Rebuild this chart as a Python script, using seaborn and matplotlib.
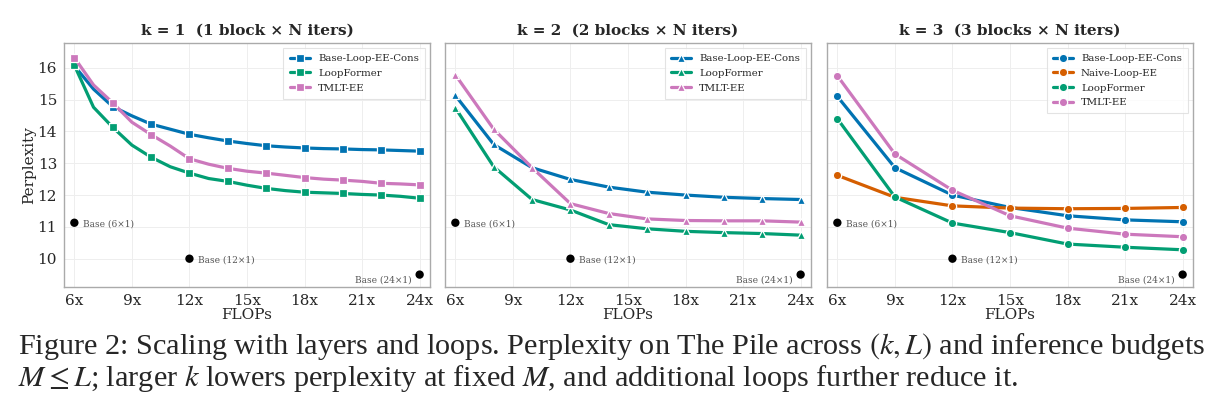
import numpy as np
import pandas as pd
import matplotlib
matplotlib.use("Agg")
import matplotlib.pyplot as plt
import seaborn as sns

sns.set_theme(style="whitegrid")
plt.rcParams['font.family'] = ['DejaVu Serif']
plt.rcParams['mathtext.fontset'] = 'stix'

pal = sns.color_palette("colorblind")
c_cons, c_naive, c_loop, c_tmlt = pal[0], pal[3], pal[2], pal[4]

# k = 1 : one point per flop step, markers every other step
x_k1 = list(range(6, 25))
cons_k1 = [16.06, 15.33, 14.78, 14.49, 14.23, 14.07, 13.91, 13.80, 13.70, 13.62,
           13.55, 13.51, 13.48, 13.46, 13.45, 13.43, 13.42, 13.40, 13.38]
loop_k1 = [16.08, 14.76, 14.13, 13.57, 13.19, 12.89, 12.69, 12.52, 12.43, 12.31,
           12.21, 12.14, 12.09, 12.07, 12.05, 12.02, 12.00, 11.96, 11.90]
tmlt_k1 = [16.32, 15.46, 14.90, 14.29, 13.90, 13.54, 13.14, 12.97, 12.84, 12.75,
           12.69, 12.62, 12.55, 12.50, 12.47, 12.43, 12.37, 12.35, 12.32]

# k = 2
x_k2 = [6, 8, 10, 12, 14, 16, 18, 20, 22, 24]
cons_k2 = [15.13, 13.59, 12.86, 12.49, 12.25, 12.09, 12.00, 11.93, 11.89, 11.86]
loop_k2 = [14.74, 12.89, 11.86, 11.53, 11.07, 10.94, 10.86, 10.82, 10.79, 10.74]
tmlt_k2 = [15.78, 14.07, 12.86, 11.73, 11.42, 11.25, 11.20, 11.19, 11.19, 11.15]

# k = 3
x_k3 = [6, 9, 12, 15, 18, 21, 24]
cons_k3 = [15.10, 12.86, 12.00, 11.61, 11.35, 11.22, 11.16]
naive_k3 = [12.62, 11.93, 11.66, 11.59, 11.57, 11.58, 11.61]
loop_k3 = [14.40, 11.94, 11.12, 10.82, 10.46, 10.36, 10.28]
tmlt_k3 = [15.75, 13.29, 12.15, 11.35, 10.96, 10.77, 10.69]

# dense baselines
base_x = [6, 12, 24]
base_y = [11.13, 10.0, 9.5]
base_labels = ["Base (6×1)", "Base (12×1)", "Base (24×1)"]

xticks = [6, 9, 12, 15, 18, 21, 24]
xticklabels = ["6x", "9x", "12x", "15x", "18x", "21x", "24x"]

panels = [
    ("k = 1  (1 block × N iters)", x_k1, 's', 2, 6.0,
     [("Base-Loop-EE-Cons", cons_k1, c_cons), ("LoopFormer", loop_k1, c_loop),
      ("TMLT-EE", tmlt_k1, c_tmlt)]),
    ("k = 2  (2 blocks × N iters)", x_k2, '^', 1, 6.0,
     [("Base-Loop-EE-Cons", cons_k2, c_cons), ("LoopFormer", loop_k2, c_loop),
      ("TMLT-EE", tmlt_k2, c_tmlt)]),
    ("k = 3  (3 blocks × N iters)", x_k3, 'o', 1, 6.0,
     [("Base-Loop-EE-Cons", cons_k3, c_cons), ("Naive-Loop-EE", naive_k3, c_naive),
      ("LoopFormer", loop_k3, c_loop), ("TMLT-EE", tmlt_k3, c_tmlt)]),
]

fig = plt.figure(figsize=(12.19, 4.07), dpi=100)
W, H = 1219.0, 407.0
lefts = [64, 445, 827]
axes = []
for i, l in enumerate(lefts):
    ax = fig.add_axes([l / W, 1 - 287 / H, 366 / W, (287 - 43) / H],
                      sharey=axes[0] if axes else None)
    axes.append(ax)

for ax, (title, xs, mk, mev, ms, series) in zip(axes, panels):
    for name, ys, col in series:
        sns.lineplot(x=xs, y=ys, ax=ax, color=col, label=name, marker=mk,
                     markevery=mev, markersize=ms, markeredgecolor='white',
                     markeredgewidth=0.9, linewidth=2.3)
    sns.scatterplot(x=base_x, y=base_y, ax=ax, color='black', s=36,
                    edgecolor='none', zorder=5, legend=False)
    for bx, by, bl in zip(base_x, base_y, base_labels):
        if bx == 24:
            ax.annotate(bl, (bx, by), xytext=(-6, -4), textcoords='offset points',
                        ha='right', va='center', fontsize=6.5, color='#555555')
        else:
            ax.annotate(bl, (bx, by), xytext=(6, -1), textcoords='offset points',
                        ha='left', va='center', fontsize=6.5, color='#555555')
    ax.set_title(title, fontsize=11, fontweight='bold', pad=6)
    ax.set_xlim(5.46, 24.54)
    ax.set_xticks(xticks)
    ax.set_xticklabels(xticklabels)
    ax.set_xlabel("FLOPs", fontsize=11, labelpad=0)
    ax.grid(True, color='#eeeeee', linewidth=0.7)
    for s in ax.spines.values():
        s.set_color('#aaaaaa')
        s.set_linewidth(1.0)
    ax.tick_params(direction='out', length=3, width=0.8, color='#777777',
                   labelsize=11, pad=2)
    leg = ax.legend(loc='upper right', fontsize=7.3, frameon=True, fancybox=False,
                    borderpad=0.6, handlelength=2.0, labelspacing=0.55)
    leg.get_frame().set_edgecolor('#dddddd')
    leg.get_frame().set_linewidth(0.8)

axes[0].set_ylim(9.11, 16.78)
axes[0].set_yticks([10, 11, 12, 13, 14, 15, 16])
axes[0].set_ylabel("Perplexity", fontsize=11, labelpad=1)
for ax in axes[1:]:
    ax.tick_params(labelleft=False)
    ax.set_ylabel("")

fig.text(0.015, 1 - 354 / H,
         r"Figure 2: Scaling with layers and loops. Perplexity on The Pile across $(k, L)$ and inference budgets",
         fontsize=21.8, family='Liberation Serif', ha='left', va='baseline')
fig.text(0.015, 1 - 386 / H,
         r"$M \leq L$; larger $k$ lowers perplexity at fixed $M$, and additional loops further reduce it.",
         fontsize=21.8, family='Liberation Serif', ha='left', va='baseline')

fig.savefig("out.png", dpi=100)
